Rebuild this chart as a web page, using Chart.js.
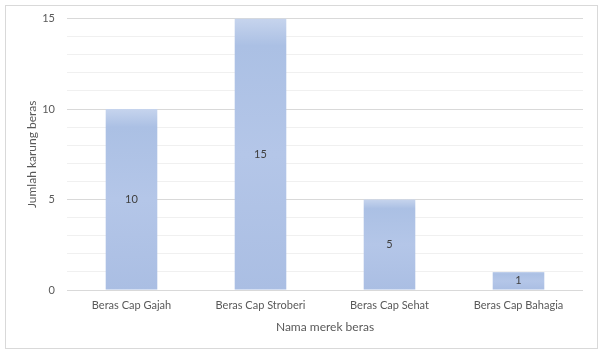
<!DOCTYPE html>
<html><head><meta charset="UTF-8"><title>Jumlah karung beras</title>
<script src="https://cdn.jsdelivr.net/npm/chart.js"></script>
<style>
  html, body { margin: 0; padding: 0; background: #fff; }
  #wrap { width: 600px; height: 354px; position: relative; }
</style></head><body>
<div id="wrap"><canvas id="mainChart" width="600" height="354"></canvas></div>
<script>
const categories = ['Beras Cap Gajah', 'Beras Cap Stroberi', 'Beras Cap Sehat', 'Beras Cap Bahagia'];
const karung = [10, 15, 5, 1];
const yTicks = [0, 5, 10, 15];

const FONT = "Lato, 'Open Sans', sans-serif";

// gradient ala Excel per batang
function barFill(ctx) {
    const chart = ctx.chart;
    if (!chart.chartArea || ctx.type !== 'data') return '#adc1e4';
    const y = chart.scales.y;
    const top = y.getPixelForValue(ctx.raw), bot = y.getPixelForValue(0);
    if (!isFinite(top) || bot - top < 1) return '#adc1e4';
    const g = chart.ctx.createLinearGradient(0, top, 0, bot);
    g.addColorStop(0, '#c6d4ed');
    g.addColorStop(0.1, '#abc0e4');
    g.addColorStop(0.5, '#b4c6e8');
    g.addColorStop(1, '#aabee3');
    return g;
}

const frame = {
    id: 'frame',
    beforeDraw(chart) {
        const c = chart.ctx;
        c.save();
        c.fillStyle = '#fff';
        c.fillRect(0, 0, chart.width, chart.height);
        c.strokeStyle = '#d9d9d9';
        c.lineWidth = 1;
        c.strokeRect(5.5, 5.5, 592, 343);
        c.restore();
    }
};

const valueLabels = {
    id: 'valueLabels',
    afterDatasetsDraw(chart) {
        const c = chart.ctx;
        const meta = chart.getDatasetMeta(0);
        c.save();
        c.font = '11px ' + FONT;
        c.fillStyle = '#404040';
        c.textAlign = 'center';
        c.textBaseline = 'middle';
        meta.data.forEach((bar, i) => {
            c.fillText(String(karung[i]), bar.x, (bar.y + bar.base) / 2);
        });
        c.restore();
    }
};

new Chart(document.getElementById('mainChart'), {
    type: 'bar',
    data: {
        labels: categories,
        datasets: [{ data: karung, backgroundColor: barFill, borderWidth: 0, barPercentage: 0.4, categoryPercentage: 1 }]
    },
    plugins: [frame, valueLabels],
    options: {
        responsive: false,
        animation: false,
        devicePixelRatio: 1,
        layout: { padding: { left: 20, right: 17, top: 16, bottom: 10 } },
        plugins: { legend: { display: false }, tooltip: { enabled: false } },
        scales: {
            x: {
                grid: { display: false, drawTicks: false },
                border: { display: false },
                ticks: { color: '#595959', font: { family: FONT, size: 11 }, padding: 9, maxRotation: 0 },
                title: { display: true, text: 'Nama merek beras', color: '#595959', font: { family: FONT, size: 12 }, padding: { top: 10, bottom: 10 } },
                afterFit(s) { s.height = 54; }
            },
            y: {
                min: 0, max: 15,
                grid: {
                    drawTicks: false,
                    color: (c) => yTicks.includes(c.tick.value) ? '#d9d9d9' : '#f0f0f0'
                },
                border: { display: false },
                ticks: {
                    stepSize: 1, autoSkip: false, padding: 12,
                    color: '#595959', font: { family: FONT, size: 11 },
                    callback: (v) => yTicks.includes(v) ? v : ''
                },
                title: { display: true, text: 'Jumlah karung beras', color: '#595959', font: { family: FONT, size: 12 }, padding: { top: 5, bottom: 5 } },
                afterFit(s) { s.width = 47; }
            }
        }
    }
});
</script></body></html>
